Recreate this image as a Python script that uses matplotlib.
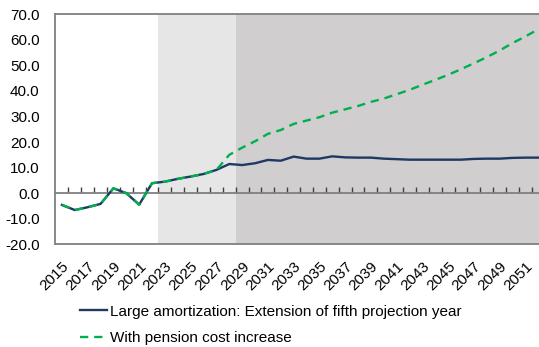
import matplotlib.pyplot as plt
import numpy as np

plt.rcParams["font.family"] = ["Liberation Sans", "DejaVu Sans"]
plt.rcParams["axes.unicode_minus"] = False

years = np.arange(2015, 2053)

large_amort = [-4.6, -6.6, -5.5, -4.2, 1.9, 0.0, -4.5, 3.9, 4.5, 5.6,
               6.5, 7.5, 9.1, 11.4, 11.0, 11.7, 13.0, 12.7, 14.3, 13.5,
               13.5, 14.4, 14.0, 13.9, 13.9, 13.5, 13.3, 13.1, 13.1, 13.1,
               13.1, 13.1, 13.4, 13.5, 13.5, 13.8, 13.9, 13.9]

pension_cost = [-4.6, -6.6, -5.5, -4.2, 1.9, 0.0, -4.5, 3.9, 4.5, 5.6,
                6.5, 7.5, 9.1, 15.0, 17.8, 20.3, 23.2, 24.7, 27.1, 28.4,
                29.7, 31.5, 32.8, 34.1, 35.7, 37.0, 38.7, 40.4, 42.4, 44.3,
                46.3, 48.5, 50.8, 53.2, 55.8, 58.7, 61.3, 64.1]

light_span = (2022.5, 2028.5)
dark_span = (2028.5, 2053)

labels = ["Large amortization: Extension of fifth projection year",
          "With pension cost increase"]

fig = plt.figure(figsize=(5.39, 3.47), dpi=100)
ax = fig.add_axes([0.102, 0.296, 0.898, 0.663])

ax.axvspan(*light_span, color="#e7e6e6", lw=0, zorder=0)
ax.axvspan(*dark_span, color="#d0cece", lw=0, zorder=0)

ax.plot(years, large_amort, color="#1f3864", lw=1.7, label=labels[0], zorder=3)
ax.plot(years, pension_cost, color="#00b050", lw=1.7, ls=(0, (3.5, 2.5)),
        label=labels[1], zorder=4)

ax.set_xlim(2014.46, 2052.06)
ax.set_ylim(-20, 70)
ax.set_yticks(np.arange(-20, 71, 10))
ax.yaxis.set_major_formatter(plt.FormatStrFormatter("%.1f"))
ax.tick_params(axis="y", length=0, pad=11, labelsize=11)

ax.set_xticks(years[::2])
ax.set_xticklabels([str(y) for y in years[::2]])
ax.tick_params(axis="x", length=0, pad=11, labelsize=11)
for lab in ax.get_xticklabels():
    lab.set_rotation(45)
    lab.set_ha("right")
    lab.set_va("top")
    lab.set_rotation_mode("anchor")

for side in ["top", "left", "bottom"]:
    ax.spines[side].set_color("#808080")
    ax.spines[side].set_linewidth(1.3)
ax.spines["right"].set_visible(False)

# zero axis with tick marks between categories
zero_pos = (0 - (-20)) / 90
sec = ax.secondary_xaxis(zero_pos)
sec.set_xticks(np.arange(2015.5, 2053, 1))
sec.tick_params(direction="in", length=4, width=1, color="#404040", labelbottom=False)
sec.spines["bottom"].set_color("#808080")
sec.spines["bottom"].set_linewidth(1.3)

fig.legend(loc="upper left", bbox_to_anchor=(0.148, 0.122), frameon=False,
           fontsize=11, handlelength=1.75, handletextpad=0.2,
           labelspacing=0.8, borderpad=0, borderaxespad=0)

fig.savefig("out.png", dpi=100)
